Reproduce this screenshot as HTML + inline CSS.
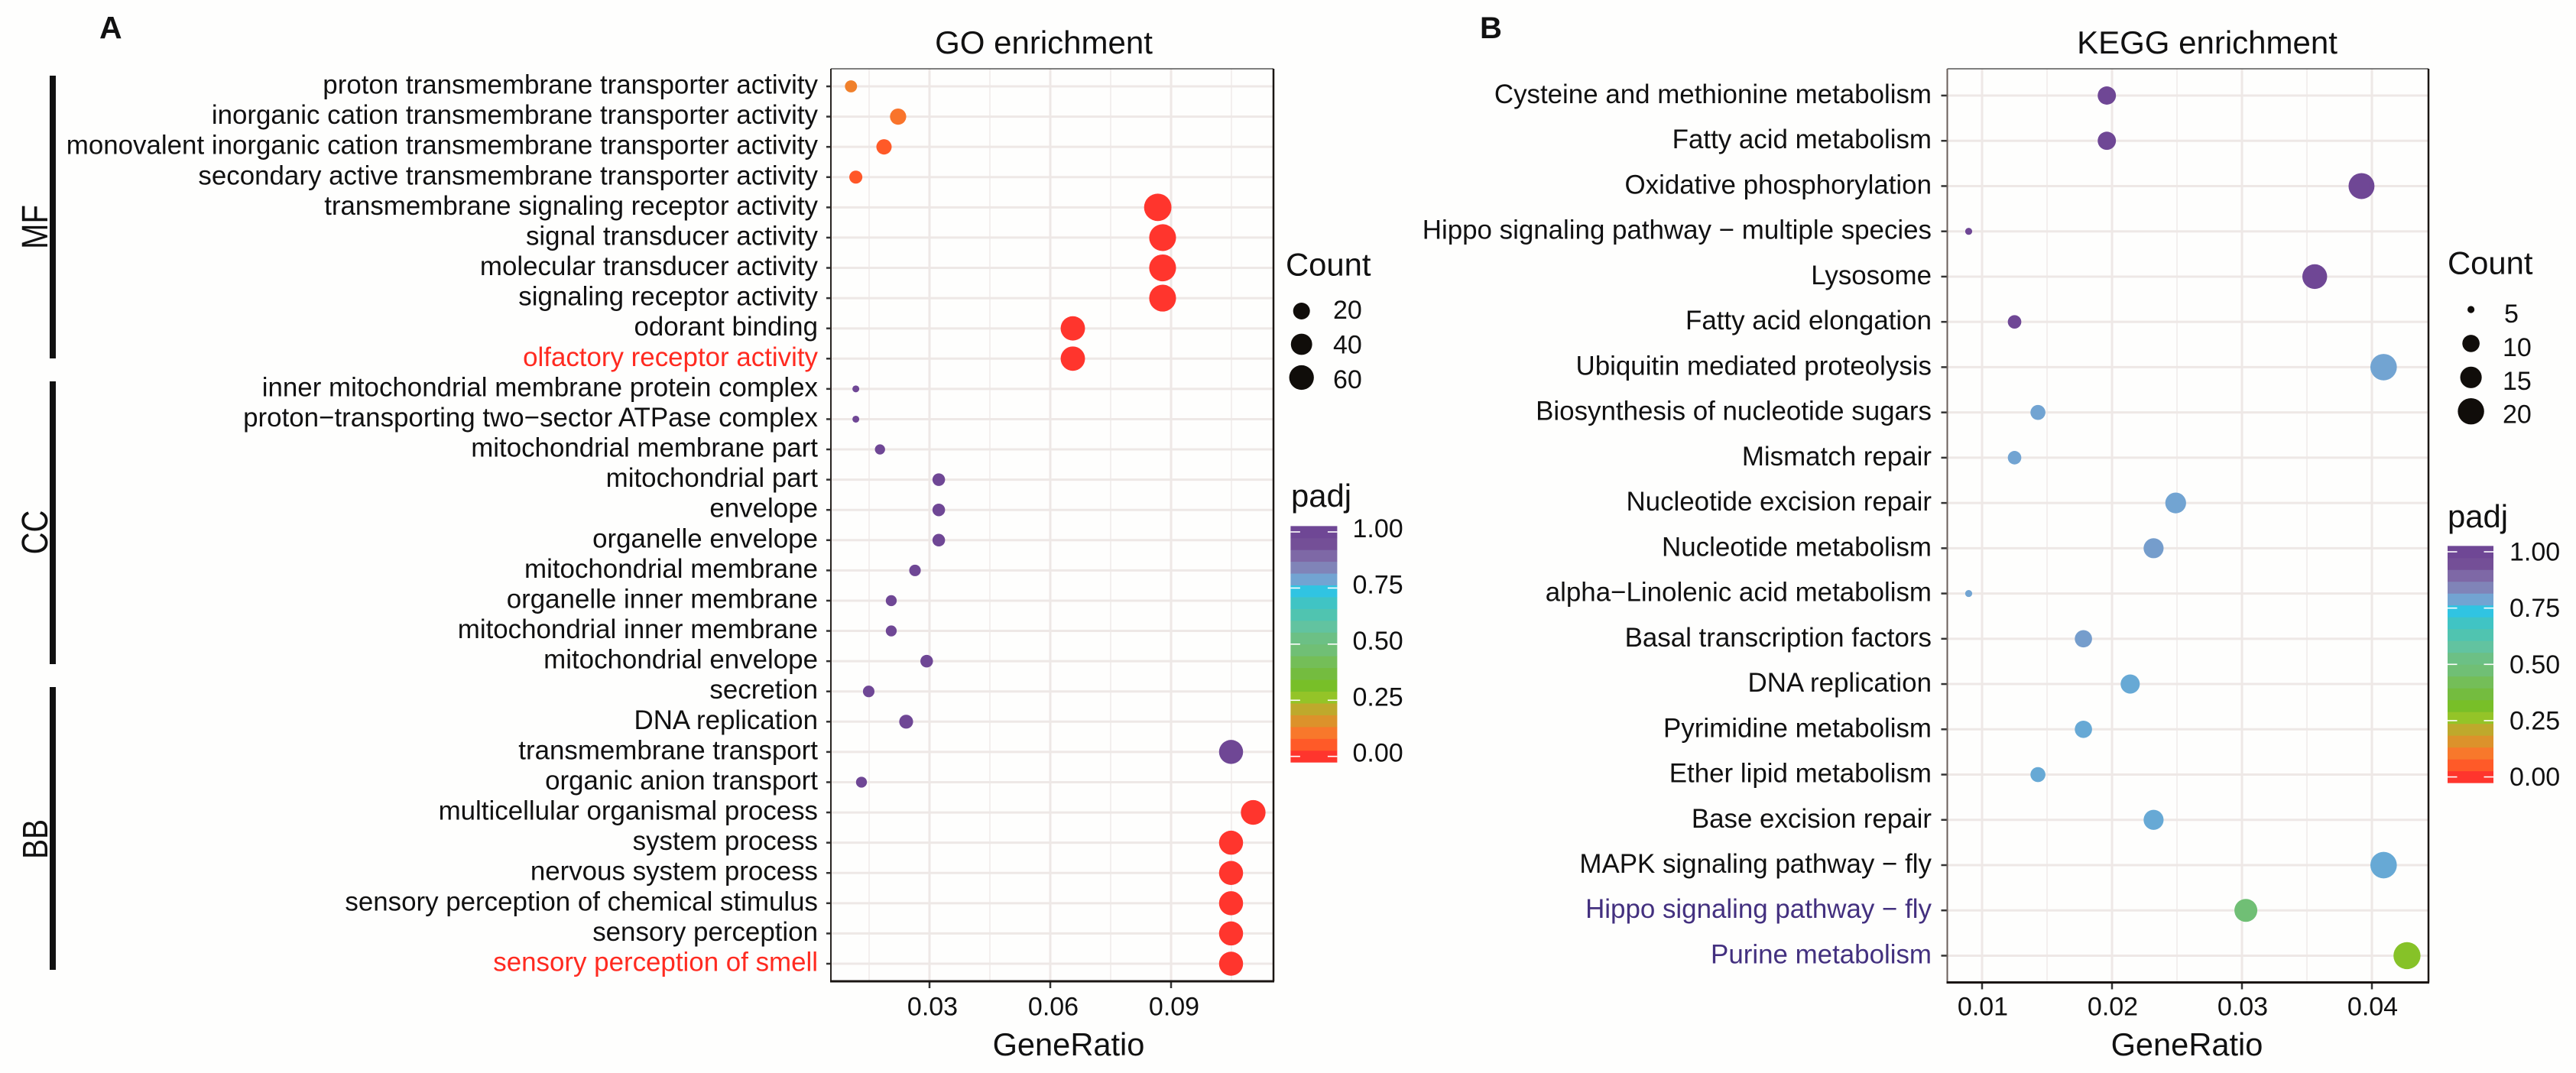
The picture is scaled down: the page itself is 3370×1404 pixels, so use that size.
<!DOCTYPE html>
<html lang="en">
<head>
<meta charset="utf-8">
<title>GO and KEGG enrichment</title>
<style>
html,body{margin:0;padding:0;background:#fefefd;}
svg{display:block;font-family:"Liberation Sans",Arial,sans-serif;}
text{fill:#111;}
</style>
</head>
<body>
<svg id="figure" xmlns="http://www.w3.org/2000/svg" width="3370" height="1404" viewBox="0 0 3370 1404">
  <rect x="0" y="0" width="3370" height="1404" fill="#fefefd"/>
  <text x="130" y="50" font-size="41" font-weight="bold">A</text>
  <text x="1936" y="50" font-size="40" font-weight="bold">B</text>
  <text x="1365.5" y="70" font-size="42" text-anchor="middle">GO enrichment</text>
  <text x="2887.5" y="70" font-size="42" text-anchor="middle">KEGG enrichment</text>
  <text x="1398" y="1381" font-size="41.6" text-anchor="middle">GeneRatio</text>
  <text x="2861" y="1381" font-size="41.6" text-anchor="middle">GeneRatio</text>
  <rect x="65" y="99" width="8" height="370" fill="#111"/>
  <rect x="65" y="499" width="8" height="370" fill="#111"/>
  <rect x="65" y="899" width="8" height="370" fill="#111"/>
  <text font-size="40" text-anchor="middle" transform="translate(62,297) rotate(-90) scale(1,1.2)">MF</text>
  <text font-size="40" text-anchor="middle" transform="translate(62,696.5) rotate(-90) scale(1,1.2)">CC</text>
  <text font-size="39" text-anchor="middle" transform="translate(62,1098) rotate(-90) scale(1,1.2)">BB</text>
  <text x="1682" y="360.5" font-size="41.8">Count</text>
  <text x="1689" y="663" font-size="41.8">padj</text>
  <text x="3202" y="358.5" font-size="41.8">Count</text>
  <text x="3202" y="690" font-size="41.8">padj</text>
  <g id="layer"></g>
</svg>
<script>
// ---------- GO data (top to bottom) ----------
const goTerms = [
  "proton transmembrane transporter activity",
  "inorganic cation transmembrane transporter activity",
  "monovalent inorganic cation transmembrane transporter activity",
  "secondary active transmembrane transporter activity",
  "transmembrane signaling receptor activity",
  "signal transducer activity",
  "molecular transducer activity",
  "signaling receptor activity",
  "odorant binding",
  "olfactory receptor activity",
  "inner mitochondrial membrane protein complex",
  "proton\u2212transporting two\u2212sector ATPase complex",
  "mitochondrial membrane part",
  "mitochondrial part",
  "envelope",
  "organelle envelope",
  "mitochondrial membrane",
  "organelle inner membrane",
  "mitochondrial inner membrane",
  "mitochondrial envelope",
  "secretion",
  "DNA replication",
  "transmembrane transport",
  "organic anion transport",
  "multicellular organismal process",
  "system process",
  "nervous system process",
  "sensory perception of chemical stimulus",
  "sensory perception",
  "sensory perception of smell"
];
const goRatio = [0.0105,0.0222,0.0187,0.0117,0.0867,0.0879,0.0879,0.0879,0.0656,0.0656,0.0117,0.0117,0.0177,0.0323,0.0323,0.0323,0.0264,0.0205,0.0205,0.0293,0.0149,0.0242,0.1049,0.0131,0.1104,0.1049,0.1049,0.1049,0.1049,0.1049];
const goCount = [7,18,15,9,79,75,75,75,58,58,2,2,4,8,8,8,6,5,5,8,6,11,56,5,60,56,56,56,56,56];
const goPadj = [0.122,0.099,0.054,0.05,0,0,0,0,0,0,1,1,1,1,1,1,1,1,1,1,1,1,1,1,0,0,0,0,0,0];
const goHighlight = ["olfactory receptor activity","sensory perception of smell"];
const goMajorTicks = [0.03,0.06,0.09];
const goMinorTicks = [0.015,0.045,0.075,0.105];
const goTickLabels = ["0.03","0.06","0.09"];
const goCountBreaks = [20,40,60];

// ---------- KEGG data (top to bottom) ----------
const keggTerms = [
  "Cysteine and methionine metabolism",
  "Fatty acid metabolism",
  "Oxidative phosphorylation",
  "Hippo signaling pathway \u2212 multiple species",
  "Lysosome",
  "Fatty acid elongation",
  "Ubiquitin mediated proteolysis",
  "Biosynthesis of nucleotide sugars",
  "Mismatch repair",
  "Nucleotide excision repair",
  "Nucleotide metabolism",
  "alpha\u2212Linolenic acid metabolism",
  "Basal transcription factors",
  "DNA replication",
  "Pyrimidine metabolism",
  "Ether lipid metabolism",
  "Base excision repair",
  "MAPK signaling pathway \u2212 fly",
  "Hippo signaling pathway \u2212 fly",
  "Purine metabolism"
];
const keggRatio = [0.0196,0.0196,0.0392,0.00897,0.0356,0.0125,0.0409,0.0143,0.0125,0.0249,0.0232,0.00897,0.0178,0.0214,0.0178,0.0143,0.0232,0.0409,0.0303,0.0427];
const keggCount = [11,11,22,5,20,7,23,8,7,14,13,5,10,12,10,8,13,23,17,24];
const keggPadj = [1,1,1,1,1,1,0.789,0.789,0.789,0.789,0.8,0.789,0.8,0.78,0.78,0.78,0.78,0.78,0.474,0.29];
const keggHighlight = ["Hippo signaling pathway \u2212 fly","Purine metabolism"];
const keggMajorTicks = [0.01,0.02,0.03,0.04];
const keggMinorTicks = [0.015,0.025,0.035];
const keggTickLabels = ["0.01","0.02","0.03","0.04"];
const keggCountBreaks = [5,10,15,20];

// ---------- shared colour scale ----------
const padjBreaks = [0,0.25,0.5,0.75,1];
const padjBreakLabels = ["0.00","0.25","0.50","0.75","1.00"];
const padjPalette = ["#ff352d","#ff5a28","#f8782b","#dc922b","#bea92c","#94c428","#78bf28","#74bc3f","#74be58","#70bf75","#6cc085","#62c3a0","#50c4b0","#40c4c4","#30c4e2","#72a4d2","#8084b8","#7e68a6","#744f97","#6f4795"];

const NS = "http://www.w3.org/2000/svg";
const layer = document.getElementById("layer");

function make(tag, attrs, text) {
  const el = document.createElementNS(NS, tag);
  for (const k in attrs) el.setAttribute(k, attrs[k]);
  if (text !== undefined) el.textContent = text;
  layer.appendChild(el);
  return el;
}
function hex(c) { return [1,3,5].map(function (i) { return parseInt(c.substr(i,2),16); }); }
function padjColor(p) {
  const n = padjPalette.length;
  const t = Math.max(0, Math.min(n - 1, (p + 0.025) / 1.05 * n - 0.5));
  const i = Math.min(n - 2, Math.floor(t));
  const f = t - i;
  const a = hex(padjPalette[i]), b = hex(padjPalette[i + 1]);
  return "rgb(" + a.map(function (v, k) { return Math.round(v + (b[k] - v) * f); }).join(",") + ")";
}

function drawPanel(p) {
  const x = p.x, y = p.y, box = p.box;
  // minor vertical grid
  p.minor.forEach(function (v) {
    const el = make("line", {x1:x(v), x2:x(v), y1:box.top, y2:box.bottom, stroke:"#f3efee", "stroke-width":2});
    
    
  });
  // major vertical grid, ticks, labels
  p.major.forEach(function (v, i) {
    const grid = make("line", {x1:x(v), x2:x(v), y1:box.top, y2:box.bottom, stroke:"#eee8e6", "stroke-width":3});
    
    
    const tick = make("line", {x1:x(v), x2:x(v), y1:box.bottom, y2:box.bottom + 9, stroke:"#333", "stroke-width":2.5});
    
    
    const label = make("text", {x:x(v) + p.tickShift, y:1328.5, "font-size":34, "text-anchor":"middle"}, p.tickLabels[i]);
    
    
  });
  // rows
  p.terms.forEach(function (term, i) {
    const grid = make("line", {x1:box.left, x2:box.right, y1:y(i), y2:y(i), stroke:"#eee8e6", "stroke-width":3});
    
    
    const tick = make("line", {x1:box.left - p.yTick, x2:box.left, y1:y(i), y2:y(i), stroke:"#333", "stroke-width":2.5});
    
    
    const label = make("text", {x:p.labelRight, y:y(i) + p.labelDy, "font-size":34.9, "text-anchor":"end"}, term);
    label.style.fill = p.highlight.indexOf(term) >= 0 ? p.highlightColor : "#111";
    
    
  });
  // dots
  p.terms.forEach(function (term, i) {
    const dot = make("circle", {cx:x(p.ratio[i]), cy:y(i), r:p.r(p.count[i]), fill:padjColor(p.padj[i])});
    
    
  });
  // panel border
  const top = make("line", {x1:box.left, x2:box.right, y1:box.top, y2:box.top, stroke:"#555", "stroke-width":1.5});
  
  
  const left = make("line", {x1:box.left, x2:box.left, y1:box.top, y2:box.bottom, stroke:p.leftColor, "stroke-width":2});
  
  
  const right = make("line", {x1:box.right, x2:box.right, y1:box.top, y2:box.bottom, stroke:"#1a1512", "stroke-width":2.5});
  
  
  const bottom = make("line", {x1:box.left - 1, x2:box.right + 1, y1:box.bottom, y2:box.bottom, stroke:"#1a1512", "stroke-width":3});
  
  
  // size legend
  p.breaks.forEach(function (c, i) {
    const key = make("circle", {cx:p.legend.x, cy:p.legend.y0 + p.legend.dy * i, r:p.r(c) + p.legend.extra[i], fill:"#100d0a"});
    
    
    const label = make("text", {x:p.legend.labelX - (String(c).length === 1 ? -2 : 0), y:p.legend.labelY0 + p.legend.labelDy * i, "font-size":34}, String(c));
    
    
  });
  // colour bar
  const cb = p.colorbar;
  const n = padjPalette.length;
  const barTop = cb.y(1.026), barBottom = cb.y(-0.026);
  const bandH = (barBottom - barTop) / n;
  padjPalette.forEach(function (c, i) {
    const band = make("rect", {x:cb.x, y:barBottom - bandH * (i + 1), width:cb.w, height:bandH + 0.4, fill:c});
    
    
  });
  padjBreaks.forEach(function (v, i) {
    const a = make("line", {x1:cb.x, x2:cb.x + 12.5, y1:cb.y(v), y2:cb.y(v), stroke:"#fff", "stroke-width":1.6});
    
    
    const b = make("line", {x1:cb.x + cb.w - 12.5, x2:cb.x + cb.w, y1:cb.y(v), y2:cb.y(v), stroke:"#fff", "stroke-width":1.6});
    
    
    const label = make("text", {x:cb.labelX, y:cb.y(v) + cb.labelDy, "font-size":34}, padjBreakLabels[i]);
    
    
  });
}

// ---------- axis functions ----------
function xGo(v) { return 1216 + (v - 0.03) * 5267; }
function yGo(i) { return 113 + i * 39.586; }
function rGo(c) { return 4.5 + 1.53 * Math.sqrt(Math.max(0, c - 2)); }
function xKegg(v) { return 2763 + (v - 0.02) * 17000; }
function yKegg(i) { return 125 + i * 59.235; }
function rKegg(c) { return 4.6 + 3 * Math.sqrt(Math.max(0, c - 5)); }
function cbGo(v) { return 989.7 - 293.7 * v; }
function cbKegg(v) { return 1016.6 - 294.6 * v; }

drawPanel({
  id:"go", terms:goTerms, ratio:goRatio, count:goCount, padj:goPadj,
  highlight:goHighlight, highlightColor:"#ff2a20",
  major:goMajorTicks, minor:goMinorTicks, tickLabels:goTickLabels, breaks:goCountBreaks,
  x:xGo, y:yGo, r:rGo, tickShift:4, yTick:6, labelRight:1070, labelDy:9.5, leftColor:"#2a2522",
  box:{left:1087, right:1666, top:90, bottom:1284},
  legend:{x:1702.7, y0:407, dy:43.5, labelX:1744, labelY0:417, labelDy:45.5, extra:[0,0,0]},
  colorbar:{x:1688.4, w:61, y:cbGo, labelX:1769.5, labelDy:7}
});
drawPanel({
  id:"kegg", terms:keggTerms, ratio:keggRatio, count:keggCount, padj:keggPadj,
  highlight:keggHighlight, highlightColor:"#43307f",
  major:keggMajorTicks, minor:keggMinorTicks, tickLabels:keggTickLabels, breaks:keggCountBreaks,
  x:xKegg, y:yKegg, r:rKegg, tickShift:1, yTick:8, labelRight:2527, labelDy:10, leftColor:"#6a5f5a",
  box:{left:2547.5, right:3177, top:90, bottom:1285.5},
  legend:{x:3232.6, y0:405, dy:44.4, labelX:3274, labelY0:422, labelDy:43.9, extra:[0,0,0,1]},
  colorbar:{x:3202, w:60, y:cbKegg, labelX:3283, labelDy:11.5}
});
</script>
</body>
</html>
